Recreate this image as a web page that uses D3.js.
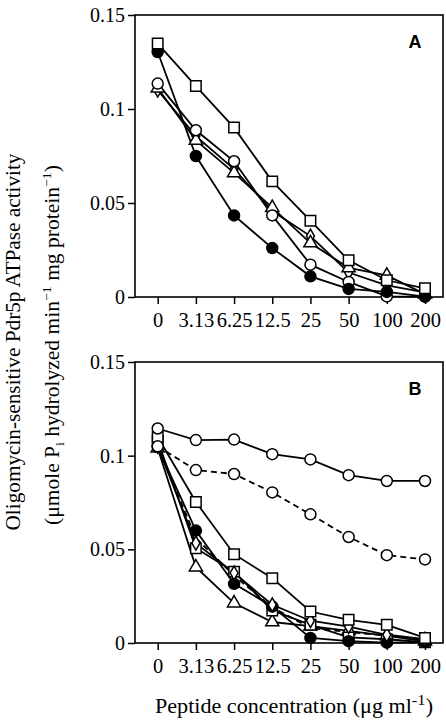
<!DOCTYPE html>
<html><head><meta charset="utf-8">
<script src="https://cdn.jsdelivr.net/npm/d3@7"></script>
<style>
html,body{margin:0;padding:0;background:#fff;}
svg{display:block;}
</style>
</head><body>
<svg id="chart" width="446" height="723"></svg>
<script>
// ---- data ----
const xLabels = ["0", "3.13", "6.25", "12.5", "25", "50", "100", "200"];
const yTicks = [0, 0.05, 0.1, 0.15];

// Panel A
const aSquare   = [0.1348, 0.1122, 0.0901, 0.0615, 0.0406, 0.0195, 0.0089, 0.0046];
const aFilled   = [0.1303, 0.0750, 0.0434, 0.0260, 0.0110, 0.0043, 0.0027, 0.0002];
const aCircle   = [0.1135, 0.0887, 0.0722, 0.0434, 0.0172, 0.0080, 0.0003, 0.0002];
const aTriangle = [0.1110, 0.0833, 0.0660, 0.0475, 0.0287, 0.0155, 0.0115, 0.0015];
const aDiamond  = [0.1100, 0.0856, 0.0680, 0.0457, 0.0324, 0.0130, 0.0062, 0.0025];

// Panel B
const bCircleTop  = [0.1145, 0.1083, 0.1086, 0.1008, 0.0980, 0.0896, 0.0865, 0.0865];
const bCircleDash = [0.1050, 0.0923, 0.0902, 0.0804, 0.0687, 0.0566, 0.0469, 0.0446];
const bSquareUp   = [0.1100, 0.0753, 0.0474, 0.0346, 0.0168, 0.0124, 0.0097, 0.0027];
const bFilled     = [0.1047, 0.0600, 0.0316, 0.0195, 0.0027, 0.0010, 0.0002, 0.0005];
const bDiamond    = [0.1050, 0.0533, 0.0374, 0.0204, 0.0119, 0.0088, 0.0044, 0.0020];
const bSquareLow  = [0.1080, 0.0506, 0.0381, 0.0174, 0.0097, 0.0030, 0.0020, 0.0004];
const bTriangle   = [0.1040, 0.0405, 0.0213, 0.0112, 0.0090, 0.0065, 0.0038, 0.0010];
const bDashLine   = [0.1050, 0.0560, 0.0360, 0.0190, 0.0080, 0.0058, 0.0040, 0.0010];

// ---- drawing ----
const svg = d3.select("#chart");
const serif = "'Liberation Serif','Times New Roman',serif";
const left = 135, right = 443;

const x = d3.scalePoint().domain(xLabels).range([157.7, 425]);

function panel(top, bottom, label, series) {
  const y = d3.scaleLinear().domain([0, 0.15]).range([bottom, top]);
  const g = svg.append("g");

  // y axis
  const ya = g.append("g").attr("transform", `translate(${left},0)`)
    .call(d3.axisLeft(y).tickValues(yTicks).tickFormat(d => d === 0 ? "0" : String(d)).tickSize(7).tickPadding(3).tickSizeOuter(0));
  ya.select(".domain").remove();
  ya.selectAll("line").attr("stroke", "#000").attr("stroke-width", 1.5);
  ya.selectAll("text").attr("font-family", serif).attr("font-size", 20).attr("fill", "#000");

  // x axis
  const xa = g.append("g").attr("transform", `translate(0,${bottom})`)
    .call(d3.axisBottom(x).tickSize(7).tickPadding(8).tickSizeOuter(0));
  xa.select(".domain").remove();
  xa.selectAll("line").attr("stroke", "#000").attr("stroke-width", 1.5);
  xa.selectAll("text").attr("font-family", serif).attr("font-size", 20.5).attr("fill", "#000");

  // frame
  g.append("rect").attr("x", left).attr("y", top).attr("width", right - left).attr("height", bottom - top)
    .attr("fill", "none").attr("stroke", "#000").attr("stroke-width", 1.6);

  g.append("text").attr("x", 415).attr("y", top + 33).attr("text-anchor", "middle")
    .attr("font-family", "'Liberation Sans',Arial,sans-serif").attr("font-weight", "bold").attr("font-size", 18)
    .text(label);

  const line = d3.line().x((d, i) => x(xLabels[i])).y(d => y(d));

  series.forEach(s => {
    g.append("path").datum(s.values).attr("d", line).attr("fill", "none")
      .attr("stroke", "#000").attr("stroke-width", 1.8)
      .attr("stroke-dasharray", s.dash ? "6,4" : null);
  });
  series.forEach(s => {
    if (!s.marker) return;
    const mg = g.append("g");
    s.values.forEach((v, i) => {
      const cx = x(xLabels[i]), cy = y(v);
      if (s.marker === "circle" || s.marker === "filled") {
        mg.append("circle").attr("cx", cx).attr("cy", cy).attr("r", 5.5)
          .attr("fill", s.marker === "filled" ? "#000" : "#fff").attr("stroke", "#000").attr("stroke-width", 1.5);
      } else {
        const type = s.marker === "square" ? d3.symbolSquare : s.marker === "triangle" ? d3.symbolTriangle : d3.symbolDiamond;
        const size = s.marker === "square" ? 110 : s.marker === "triangle" ? 75 : 55;
        mg.append("path").attr("d", d3.symbol().type(type).size(size)())
          .attr("transform", `translate(${cx},${cy})`)
          .attr("fill", "#fff").attr("stroke", "#000").attr("stroke-width", 1.5);
      }
    });
  });
}

panel(15, 297, "A", [
  {values: aDiamond, marker: "diamond"},
  {values: aTriangle, marker: "triangle"},
  {values: aCircle, marker: "circle"},
  {values: aFilled, marker: "filled"},
  {values: aSquare, marker: "square"}
]);

panel(362, 643, "B", [
  {values: bDashLine, marker: null, dash: true},
  {values: bTriangle, marker: "triangle"},
  {values: bSquareLow, marker: "square"},
  {values: bFilled, marker: "filled"},
  {values: bDiamond, marker: "diamond"},
  {values: bSquareUp, marker: "square"},
  {values: bCircleDash, marker: "circle", dash: true},
  {values: bCircleTop, marker: "circle"}
]);

// axis titles
svg.append("text").attr("x", 294).attr("y", 713).attr("text-anchor", "middle")
  .attr("font-family", serif).attr("font-size", 20)
  .attr("textLength", 278).attr("lengthAdjust", "spacingAndGlyphs")
  .html('Peptide concentration (μg ml<tspan dy="-8" font-size="15">-1</tspan><tspan dy="8">)</tspan>');

const yt = svg.append("g").attr("transform", "translate(20,342) rotate(-90)");
yt.append("text").attr("x", 0).attr("y", 0).attr("text-anchor", "middle")
  .attr("font-family", serif).attr("font-size", 20)
  .attr("textLength", 377).attr("lengthAdjust", "spacingAndGlyphs")
  .text("Oligomycin-sensitive Pdr5p ATPase  activity");
const yt2 = svg.append("g").attr("transform", "translate(59,345) rotate(-90)");
yt2.append("text").attr("x", 0).attr("y", 0).attr("text-anchor", "middle")
  .attr("font-family", serif).attr("font-size", 20)
  .attr("textLength", 360).attr("lengthAdjust", "spacingAndGlyphs")
  .html('(μmole P<tspan dy="5" font-size="13">i</tspan><tspan dy="-5"> hydrolyzed min</tspan><tspan dy="-8" font-size="13">−1</tspan><tspan dy="8"> mg protein</tspan><tspan dy="-8" font-size="13">−1</tspan><tspan dy="8">)</tspan>');
</script>
</body></html>
